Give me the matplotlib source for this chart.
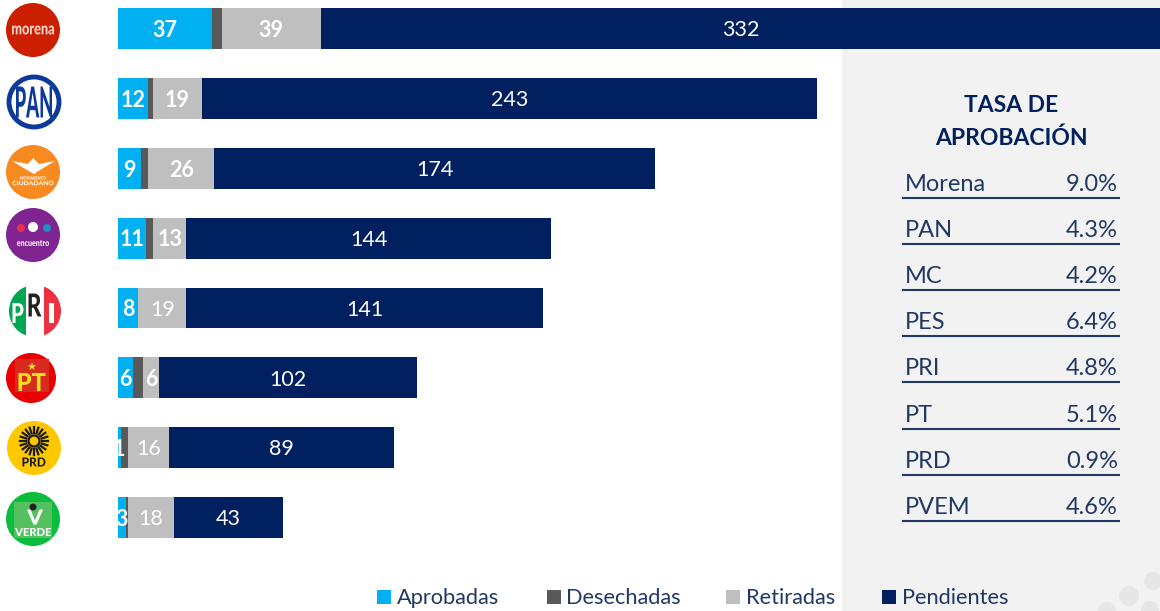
import numpy as np
import matplotlib
matplotlib.use("Agg")
import matplotlib.pyplot as plt
from matplotlib.font_manager import FontProperties
from matplotlib.patches import Circle, PathPatch, Rectangle
from matplotlib.textpath import TextPath
from matplotlib.transforms import Affine2D

plt.rcParams["font.family"] = ["Lato", "DejaVu Sans"]

# Data
partidos = ["Morena", "PAN", "MC", "PES", "PRI", "PT", "PRD", "PVEM"]
aprobadas = [37, 12, 9, 11, 8, 6, 1, 3]
desechadas = [4, 2, 3, 3, 0, 4, 3, 1]
retiradas = [39, 19, 26, 13, 19, 6, 16, 18]
pendientes = [332, 243, 174, 144, 141, 102, 89, 43]
tasa = ["9.0%", "4.3%", "4.2%", "6.4%", "4.8%", "5.1%", "0.9%", "4.6%"]
leyenda = ["Aprobadas", "Desechadas", "Retiradas", "Pendientes"]

AZUL = "#00b0f0"
GRIS_OSC = "#595959"
GRIS = "#bfbfbf"
MARINO = "#002060"
TEXTO = "#1f3864"
PANEL = "#f2f2f2"

W, H = 1160, 611
fig = plt.figure(figsize=(W / 100, H / 100), dpi=100, facecolor="white")

# overlay in pixel coordinates for panel, logos, legend
bg = fig.add_axes([0, 0, 1, 1], zorder=0)
bg.set_xlim(0, W)
bg.set_ylim(H, 0)
bg.axis("off")
bg.add_patch(Rectangle((842, 0), W - 842, H, color=PANEL, lw=0))
for cx, cy, r in [(1153, 581, 9), (1129, 596, 10), (1107, 611, 9), (1150, 610, 9)]:
    bg.add_patch(Circle((cx, cy), r, color="#e6e6e6", lw=0))

# bars: 2.532 px per unit, rows every 69.85 px
ax = fig.add_axes([118 / W, 1 - 560 / H, (W - 118) / W, 560 / H], zorder=1)
ax.patch.set_alpha(0)
ax.set_xlim(0, (W - 118) / 2.532)
ax.set_ylim((560 - 28.6) / 69.85, -28.6 / 69.85)
ax.axis("off")

series = [aprobadas, desechadas, retiradas, pendientes]
colores = [AZUL, GRIS_OSC, GRIS, MARINO]
ypos = list(range(len(partidos)))
left = [0] * len(partidos)
for vals, col in zip(series, colores):
    ax.barh(ypos, vals, left=left, height=0.585, color=col, lw=0)
    for i, v in enumerate(vals):
        if col != GRIS_OSC and v > 0:
            if col == AZUL or (col == GRIS and i in (0, 1, 2, 3, 5)):
                peso = "bold"
            else:
                peso = "normal"
            ax.text(left[i] + v / 2, i + 0.025, str(v), color="white", ha="center",
                    va="center", fontsize=15.5, fontweight=peso, clip_on=True)
    left = [a + b for a, b in zip(left, vals)]

# panel table
bg.text(1011, 106, "TASA DE", ha="center", va="center", fontsize=16.5,
        fontweight="bold", color=MARINO)
bg.text(1011, 138, "APROBACIÓN", ha="center", va="center", fontsize=16.5,
        fontweight="bold", color=MARINO)
for i, (p, t) in enumerate(zip(partidos, tasa)):
    y = 198 + i * 46.1
    bg.text(905, y - 7, p, ha="left", va="baseline", fontsize=17, color=TEXTO)
    bg.text(1118, y - 7, t, ha="right", va="baseline", fontsize=17, color=TEXTO)
    bg.plot([902, 1120], [y, y], color=TEXTO, lw=1.5, solid_capstyle="butt")

# legend
for nombre, col, xc, xt in zip(leyenda, colores, [377, 547, 726, 882], [397, 566, 746, 902]):
    bg.add_patch(Rectangle((xc, 590), 14, 14, color=col, lw=0))
    bg.text(xt, 598, nombre, ha="left", va="center", fontsize=15.7, color=TEXTO)


# party logos
def logo_text(x, y, s, size, color="white", weight="bold"):
    bg.text(x, y, s, ha="center", va="center", fontsize=size, color=color, fontweight=weight)


def squeezed(x, y, s, w, h, color):
    # text drawn as a path so it can be narrowed to fit the logo
    tp = TextPath((0, 0), s, size=10, prop=FontProperties(family="Lato", weight="black"))
    box = tp.get_extents()
    tr = (Affine2D().translate(-box.x0 - box.width / 2, -box.y0 - box.height / 2)
          .scale(w / box.width, -h / box.height).translate(x, y))
    bg.add_patch(PathPatch(tr.transform_path(tp), color=color, lw=0))


bg.add_patch(Circle((33, 30), 27, color="#cc1f00", lw=0))
squeezed(33, 30, "morena", 42, 9, "#f6d5cc")

bg.add_patch(Circle((34, 102), 25, facecolor="white", edgecolor="#0b3a9a", lw=3.5))
squeezed(34, 102, "PAN", 36, 31, "#0b3a9a")

bg.add_patch(Circle((33, 172), 27, color="#f98a1f", lw=0))
bg.fill([12, 28, 33, 39, 55, 40, 34, 27], [161, 164, 158, 164, 161, 170, 174, 170],
        color="white", lw=0)
squeezed(33, 178, "MOVIMIENTO", 26, 3.5, "white")
squeezed(33, 183, "CIUDADANO", 41, 4.5, "white")

bg.add_patch(Circle((33, 235), 27, color="#7f2490", lw=0))
for cx, cy, r, c in [(21, 228, 4, "#e8304a"), (33, 227, 5, "white"), (47, 228, 4, "#1f8fc0")]:
    bg.add_patch(Circle((cx, cy), r, color=c, lw=0))
squeezed(33, 243, "encuentro", 32, 6, "white")

disco = Circle((35, 311), 26, color="white", lw=0)
bg.add_patch(disco)
for xr, wr, c in [(9, 17, "#00a651"), (44, 17, "#ee3140")]:
    franja = Rectangle((xr, 285), wr, 52, color=c, lw=0)
    bg.add_patch(franja)
    franja.set_clip_path(disco)
squeezed(18, 313, "P", 11, 20, "white")
squeezed(35, 305, "R", 13, 23, "#222222")
squeezed(51, 313, "I", 5, 20, "white")

bg.add_patch(Circle((31, 378), 25, color="#e80000", lw=0))
bg.add_patch(Rectangle((15, 359), 34, 33, color="#d92a20", lw=0))
squeezed(32, 382, "PT", 27, 18, "#f5e11a")
logo_text(31, 367, "★", 8, "#f5e11a")

bg.add_patch(Circle((34, 448), 27, color="#ffc800", lw=0))
for ang in np.linspace(0, 2 * np.pi, 20, endpoint=False):
    bg.plot([34 + 8 * np.cos(ang), 34 + 14 * np.cos(ang)],
            [441 + 8 * np.sin(ang), 441 + 14 * np.sin(ang)], color="#1a1a1a", lw=1.6)
bg.add_patch(Circle((34, 441), 5.5, facecolor="none", edgecolor="#1a1a1a", lw=1.6))
squeezed(34, 462, "PRD", 23, 9, "#1a1a1a")

bg.add_patch(Circle((33, 519), 27, color="#0cbc3c", lw=0))
bg.add_patch(Rectangle((14, 502), 38, 36, color="#55c060", lw=0))
squeezed(35, 517, "V", 16, 15, "white")
bg.add_patch(Circle((33, 507), 3.5, color="#222222", lw=0))
squeezed(33, 532, "VERDE", 36, 8, "white")

fig.savefig("out.png", dpi=100)
